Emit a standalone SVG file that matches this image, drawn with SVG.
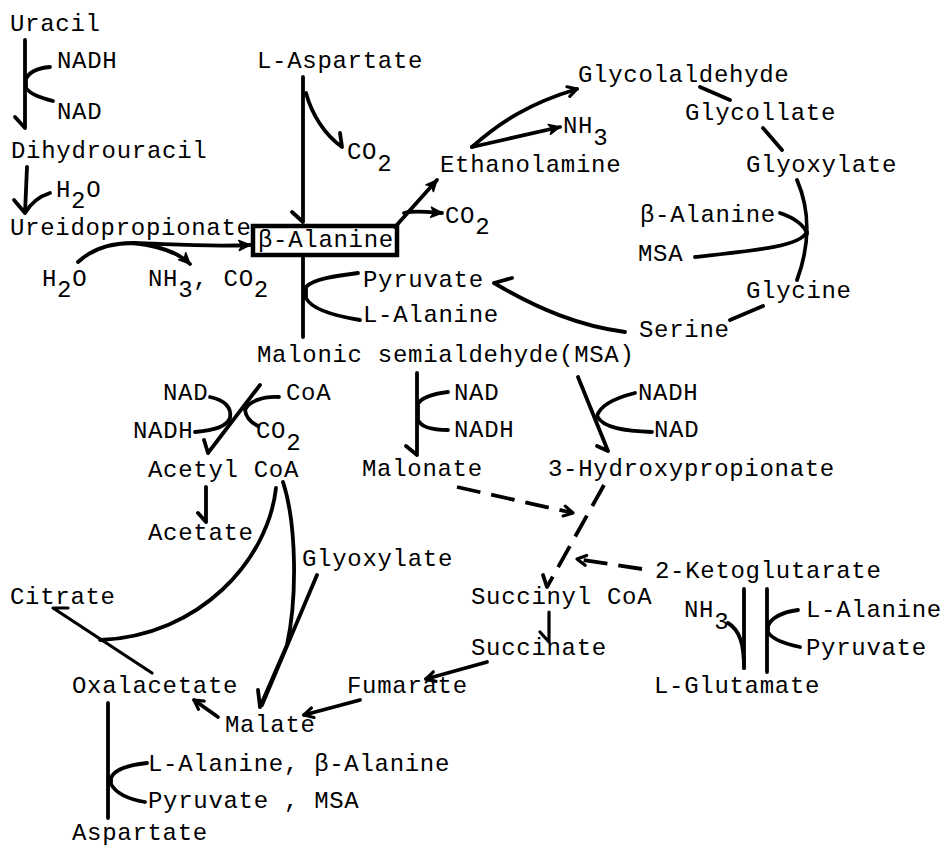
<svg xmlns="http://www.w3.org/2000/svg" width="945" height="849" viewBox="0 0 945 849">
<defs>
<style>
text{font-family:"Liberation Mono","Courier New",monospace;font-size:24px;letter-spacing:0.7px;fill:#000}
.c{fill:none;stroke:#000;stroke-width:3.8;stroke-linecap:round;stroke-linejoin:round}
.t{stroke-width:3.2}
.d{stroke-dasharray:24 11;stroke-linecap:butt}
</style>
<marker id="ao" viewBox="-12 -7 14 14" refX="0" refY="0" markerWidth="14" markerHeight="14" markerUnits="userSpaceOnUse" orient="auto">
<path d="M-9,-5 L0,0 L-9,5" fill="none" stroke="#000" stroke-width="3.2" stroke-linecap="round" stroke-linejoin="round"/>
</marker>
<marker id="af" viewBox="-13 -7 15 14" refX="0" refY="0" markerWidth="15" markerHeight="14" markerUnits="userSpaceOnUse" orient="auto">
<path d="M-11,-5 L0,0 L-11,5 L-8,0 Z" fill="#000" stroke="#000" stroke-width="1.5" stroke-linejoin="round"/>
</marker>
</defs>
<rect width="945" height="849" fill="#fff"/>

<g id="connectors">
<!-- Uracil -> Dihydrouracil -->
<path class="c" d="M25,40 L25,128 M15,117 L25,128"/>
<path class="c" d="M50,67 C38,68 29,72 26,79 L26,88 C31,95 42,98 53,101"/>
<!-- Dihydrouracil -> Ureidopropionate -->
<path class="c" d="M27,167 L25,213 M14,200 L25,213 Q34,198 50,193"/>
<!-- Ureidopropionate -> beta-Alanine -->
<path class="c" d="M78,262 C92,249 110,243 133,243 C170,244 205,247 250,245" marker-end="url(#af)"/>
<path class="c" d="M133,243 C160,246 178,252 190,264" marker-end="url(#af)"/>
<!-- L-Aspartate -> beta-Alanine -->
<path class="c" d="M303,77 L303,222 M292,212 L303,222"/>
<path class="c" d="M306,93 C312,115 325,135 342,147 M340,133 L342,147"/>
<!-- beta-Alanine box -->
<rect x="253" y="226" width="144" height="29" fill="none" stroke="#000" stroke-width="4.5"/>
<!-- beta-Alanine -> MSA -->
<path class="c" d="M303,255 L303,337"/>
<path class="c" d="M358,273 C335,276 313,279 306,287 L306,298 C312,310 335,316 360,320"/>
<!-- beta-Alanine -> Ethanolamine -->
<path class="c" d="M395,227 L437,180" marker-end="url(#af)"/>
<path class="c" d="M404,213 C415,210 428,212 442,213" marker-end="url(#af)"/>
<!-- Ethanolamine -> Glycolaldehyde / NH3 -->
<path class="c" d="M472,147 C500,122 530,103 577,89" marker-end="url(#ao)"/>
<path class="c" d="M472,147 L560,127" marker-end="url(#af)"/>
<!-- Glycolaldehyde - Glycollate - Glyoxylate - Glycine - Serine -->
<path class="c" d="M700,87 L730,100"/>
<path class="c" d="M763,128 L782,150"/>
<path class="c" d="M797,180 C810,210 810,245 797,280"/>
<path class="c" d="M780,213 C795,218 805,226 807,234"/>
<path class="c" d="M695,257 C760,250 800,246 807,232"/>
<path class="c" d="M763,306 L730,320"/>
<!-- Serine -> Pyruvate -->
<path class="c" d="M625,332 C580,326 540,310 494,283 M494,283 L512,278"/>
<!-- MSA -> Acetyl CoA -->
<path class="c" d="M260,385 L208,453 M204,440 L208,453"/>
<path class="c" d="M210,397 C225,400 232,408 230,418 C226,427 215,430 195,432"/>
<path class="c" d="M279,397 C262,396 248,402 245,410 C246,418 252,423 258,426"/>
<!-- MSA -> Malonate -->
<path class="c" d="M417,373 L417,455 M406,446 L417,455"/>
<path class="c" d="M448,392 C432,394 421,398 418,404 L418,420 C421,427 432,430 448,430"/>
<!-- MSA -> 3-Hydroxypropionate -->
<path class="c" d="M578,377 L608,451 M597,446 L608,451"/>
<path class="c" d="M635,393 C615,398 600,406 597,416 C603,428 625,431 652,432"/>
<!-- dashed -->
<path class="c d" d="M457,487 L573,513" marker-end="url(#ao)"/>
<path class="c d" d="M604,485 L547,587"/>
<path class="c" d="M543,575 L547,587"/>
<path class="c d" d="M642,569 L577,559" marker-end="url(#ao)"/>
<!-- Succinyl CoA -> Succinate -> Fumarate -> Malate -> Oxalacetate -->
<path class="c t" d="M549,612 L549,642 M540,632 L549,642"/>
<path class="c" d="M487,662 L426,679" marker-end="url(#ao)"/>
<path class="c" d="M360,700 L304,715" marker-end="url(#ao)"/>
<path class="c" d="M218,717 L194,700" marker-end="url(#ao)"/>
<!-- Acetyl CoA -> Acetate -->
<path class="c" d="M206,487 L206,522 M198,513 L206,522"/>
<!-- Acetyl CoA -> Citrate junction -->
<path class="c" d="M276,488 C268,560 200,636 100,640"/>
<!-- Oxalacetate -> Citrate -->
<path class="c t" d="M152,673 L53,608 L68,608"/>
<!-- Acetyl CoA -> Malate, Glyoxylate -->
<path class="c" d="M283,482 C297,525 297,600 287,645 L260,707 M258,690 L260,707"/>
<path class="c" d="M317,575 L262,705"/>
<!-- Oxalacetate -> Aspartate -->
<path class="c" d="M108,703 L108,818"/>
<path class="c" d="M147,763 C128,765 114,770 111,778 L111,784 C116,794 128,799 145,802"/>
<!-- 2-Ketoglutarate -> L-Glutamate -->
<path class="c" d="M744,589 L744,668"/>
<path class="c" d="M728,623 C740,630 744,645 744,668"/>
<path class="c" d="M767,589 L767,672"/>
<path class="c" d="M798,610 C782,612 771,618 768,626 L768,632 C772,640 786,644 800,647"/>
</g>

<g id="uracil"><text x="10" y="31">Uracil</text></g>
<g id="nadh1"><text x="57" y="68">NADH</text></g>
<g id="nad1"><text x="57" y="119">NAD</text></g>
<g id="dihydrouracil"><text x="11" y="158">Dihydrouracil</text></g>
<g id="h2o1"><text x="56" y="197">H<tspan dy="11">2</tspan><tspan dy="-11">O</tspan></text></g>
<g id="ureidopropionate"><text x="10" y="235">Ureidopropionate</text></g>
<g id="h2o2"><text x="42" y="286">H<tspan dy="11">2</tspan><tspan dy="-11">O</tspan></text></g>
<g id="nh3co2"><text x="148" y="286">NH<tspan dy="11">3</tspan><tspan dy="-11">, CO</tspan><tspan dy="11">2</tspan></text></g>
<g id="l-aspartate"><text x="257" y="68">L-Aspartate</text></g>
<g id="co2a"><text x="347" y="159">CO<tspan dy="12">2</tspan></text></g>
<g id="beta-alanine"><text x="258" y="247">β-Alanine</text></g>
<g id="ethanolamine"><text x="440" y="172">Ethanolamine</text></g>
<g id="co2b"><text x="445" y="223">CO<tspan dy="11">2</tspan></text></g>
<g id="nh3a"><text x="563" y="133">NH<tspan dy="12">3</tspan></text></g>
<g id="glycolaldehyde"><text x="578" y="82">Glycolaldehyde</text></g>
<g id="glycollate"><text x="685" y="120">Glycollate</text></g>
<g id="glyoxylate1"><text x="746" y="172">Glyoxylate</text></g>
<g id="beta-alanine2"><text x="640" y="222">β-Alanine</text></g>
<g id="msa1"><text x="638" y="261">MSA</text></g>
<g id="glycine"><text x="746" y="298">Glycine</text></g>
<g id="serine"><text x="639" y="337">Serine</text></g>
<g id="pyruvate1"><text x="363" y="287">Pyruvate</text></g>
<g id="l-alanine1"><text x="363" y="322">L-Alanine</text></g>
<g id="msa"><text x="257" y="362">Malonic semialdehyde(MSA)</text></g>
<g id="nad2"><text x="163" y="400">NAD</text></g>
<g id="nadh2"><text x="133" y="438">NADH</text></g>
<g id="coa"><text x="286" y="400">CoA</text></g>
<g id="co2c"><text x="256" y="438">CO<tspan dy="12">2</tspan></text></g>
<g id="nad3"><text x="454" y="400">NAD</text></g>
<g id="nadh3"><text x="454" y="437">NADH</text></g>
<g id="nadh4"><text x="638" y="400">NADH</text></g>
<g id="nad4"><text x="654" y="437">NAD</text></g>
<g id="acetylcoa"><text x="148" y="477">Acetyl CoA</text></g>
<g id="malonate"><text x="362" y="476">Malonate</text></g>
<g id="hydroxypropionate"><text x="548" y="476">3-Hydroxypropionate</text></g>
<g id="acetate"><text x="148" y="540">Acetate</text></g>
<g id="glyoxylate2"><text x="302" y="566">Glyoxylate</text></g>
<g id="ketoglutarate"><text x="655" y="578">2-Ketoglutarate</text></g>
<g id="succinylcoa"><text x="471" y="604">Succinyl CoA</text></g>
<g id="citrate"><text x="10" y="604">Citrate</text></g>
<g id="nh3b"><text x="684" y="617">NH<tspan dy="12">3</tspan></text></g>
<g id="l-alanine2"><text x="806" y="617">L-Alanine</text></g>
<g id="succinate"><text x="471" y="655">Succinate</text></g>
<g id="pyruvate2"><text x="806" y="655">Pyruvate</text></g>
<g id="oxalacetate"><text x="72" y="693">Oxalacetate</text></g>
<g id="fumarate"><text x="347" y="693">Fumarate</text></g>
<g id="l-glutamate"><text x="654" y="693">L-Glutamate</text></g>
<g id="malate"><text x="225" y="732">Malate</text></g>
<g id="cof1"><text x="148" y="771">L-Alanine, β-Alanine</text></g>
<g id="cof2"><text x="148" y="808">Pyruvate , MSA</text></g>
<g id="aspartate"><text x="72" y="840">Aspartate</text></g>
</svg>
